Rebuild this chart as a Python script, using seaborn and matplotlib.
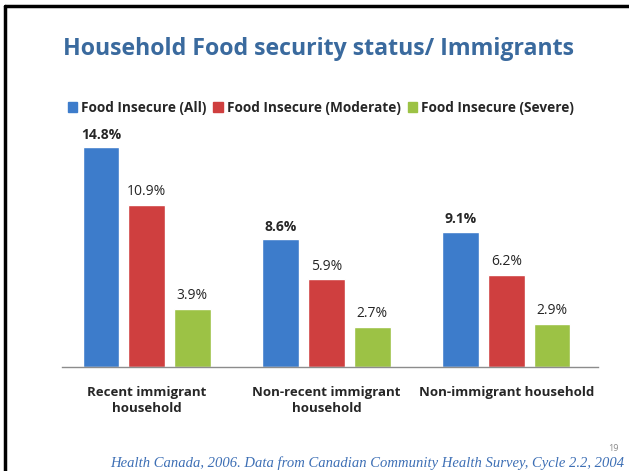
import pandas as pd
import matplotlib.pyplot as plt
import seaborn as sns

categories = ['Recent immigrant\nhousehold', 'Non-recent immigrant\nhousehold', 'Non-immigrant household']
series = ['Food Insecure (All)', 'Food Insecure (Moderate)', 'Food Insecure (Severe)']
all_vals = [14.8, 8.6, 9.1]
moderate_vals = [10.9, 5.9, 6.2]
severe_vals = [3.9, 2.7, 2.9]
source = 'Health Canada, 2006. Data from Canadian Community Health Survey, Cycle 2.2, 2004'

colors = ['#3D7CCB', '#CF3F3F', '#9CC245']


def build_frame():
    rows = []
    for name, vals in zip(series, [all_vals, moderate_vals, severe_vals]):
        for cat, v in zip(categories, vals):
            rows.append({'category': cat, 'series': name, 'value': v})
    return pd.DataFrame(rows)


def main():
    sns.set_theme(style="white")
    plt.rcParams['font.family'] = ['Open Sans', 'DejaVu Sans']
    data = build_frame()

    fig = plt.figure(figsize=(6.29, 4.71), dpi=100)
    ax = fig.add_axes([0.0986, 0.2208, 0.8524, 0.5032])
    sns.barplot(data=data, x='category', y='value', hue='series', palette=colors,
                width=0.76, gap=0.19, ax=ax, legend=False, saturation=1)

    ax.set_xlim(-0.47, 2.51)
    ax.set_ylim(0, 15.95)
    for side in ['top', 'right', 'left']:
        ax.spines[side].set_visible(False)
    ax.spines['bottom'].set_color('#8C8C8C')
    ax.spines['bottom'].set_linewidth(1)
    ax.set_yticks([])
    ax.set_xlabel('')
    ax.set_ylabel('')
    ax.tick_params(axis='x', length=0, pad=14)
    ax.set_xticks(range(len(categories)))
    ax.set_xticklabels(categories, fontsize=9.5, fontweight='bold', linespacing=1.3)

    # data labels
    for i, cont in enumerate(ax.containers):
        labels = [f'{v:.1f}%' for v in cont.datavalues]
        ax.bar_label(cont, labels=labels, padding=4, fontsize=10,
                     fontweight='bold' if i == 0 else 'normal')

    # legend
    handles = [plt.Rectangle((0, 0), 1, 1, color=c) for c in colors]
    fig.legend(handles, series, loc='center', bbox_to_anchor=(0.51, 0.771), ncol=3,
               frameon=False, prop={'size': 9.8, 'weight': 'bold'},
               handlelength=0.7, handleheight=0.7, handletextpad=0.3, columnspacing=0.5)

    fig.text(0.506, 0.895, 'Household Food security status/ Immigrants', ha='center', va='center',
             fontsize=16.7, fontweight='bold', color='#3A6A9E')
    fig.text(0.993, 0.017, source, ha='right', va='center', fontsize=10.5, style='italic',
             color='#3D6FB5', family='Liberation Serif')
    fig.text(0.983, 0.047, '19', ha='right', va='center', fontsize=6.5, color='#8C8C8C')

    # slide border (top and left edges)
    fig.add_artist(plt.Line2D([0.0079, 1.0], [0.9875, 0.9875], color='black', lw=2.5,
                              transform=fig.transFigure))
    fig.add_artist(plt.Line2D([0.0079, 0.0079], [0.0, 0.9875], color='black', lw=2.5,
                              transform=fig.transFigure))

    fig.savefig('out.png', dpi=100)


if __name__ == "__main__":
    main()
